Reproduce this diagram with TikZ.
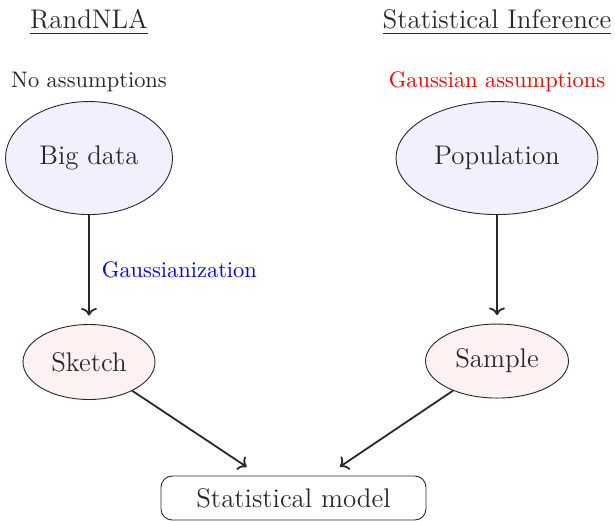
\documentclass[tikz,border=0pt]{standalone}
\usepackage{amsfonts,amsmath,amssymb}
\usepackage{tikz}
\usetikzlibrary{arrows.meta,shapes.geometric}
\definecolor{datafill}{RGB}{240,240,255}
\definecolor{samplefill}{RGB}{253,241,241}
\definecolor{inkgray}{RGB}{40,40,40}
\tikzset{
  every picture/.style={line join=round, line cap=round},
  bigblob/.style={ellipse, draw=inkgray, thin, fill=datafill, font=\large, text=inkgray, inner sep=0pt},
  smallblob/.style={ellipse, draw=inkgray, thin, fill=samplefill, font=\large, text=inkgray, inner sep=0pt},
  modelbox/.style={rectangle, rounded corners=5pt, draw=inkgray, thin, font=\large, text=inkgray, inner sep=0pt},
  header/.style={font=\large, text=inkgray, anchor=base},
  flow/.style={->, thick, draw=inkgray},
}

\begin{document}
\begin{tikzpicture}
\useasboundingbox (0,0) rectangle (9.631,8.159);
% headers
\node[header] (randnla) at (1.394,7.705) {\underline{RandNLA}};
\node[header] (statinf) at (7.783,7.705) {\underline{Statistical Inference}};
\node[text=inkgray] (noass) at (1.394,6.874) {No assumptions};
\node[text=red] (gaussass) at (7.783,6.874) {Gaussian assumptions};
% nodes
\node[bigblob,minimum width=2.615cm,minimum height=1.770cm] (bigdata) at (1.394,5.684) {Big data};
\node[bigblob,minimum width=3.163cm,minimum height=1.770cm] (population) at (7.783,5.684) {Population};
\node[smallblob,minimum width=2.067cm,minimum height=1.174cm] (sketch) at (1.394,2.490) {Sketch};
\node[smallblob,minimum width=2.239cm,minimum height=1.159cm] (sample) at (7.783,2.505) {Sample};
\node[modelbox,minimum width=4.150cm,minimum height=0.689cm] (model) at (4.596,0.360) {Statistical model};
% connectors
\draw[flow,shorten >=3.8pt] (bigdata) -- (sketch) node[midway,right=2pt,text=blue] (gauss) {Gaussianization};
\draw[flow,shorten >=3.8pt] (population) -- (sample);
\draw[flow,shorten >=7pt] (sketch) -- (model);
\draw[flow,shorten >=7pt] (sample) -- (model);
\end{tikzpicture}
\end{document}
